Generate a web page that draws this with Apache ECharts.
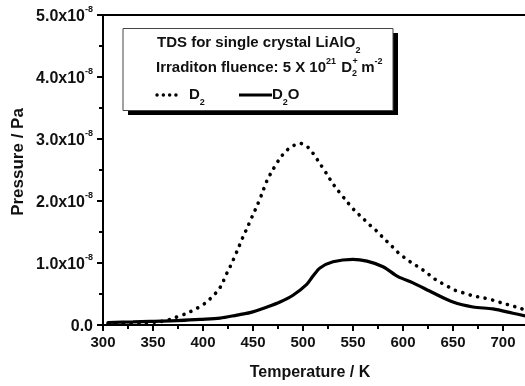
<!DOCTYPE html>
<html>
<head>
<meta charset="utf-8">
<script src="https://cdn.jsdelivr.net/npm/echarts@6/dist/echarts.min.js"></script>
<style>
  html, body { margin: 0; padding: 0; background: #fff; }
  #chart { width: 525px; height: 386px; }
</style>
</head>
<body>
<div id="chart"></div>
<script>
// Thermal desorption spectra, pressure in units of 1e-8 Pa
const d2Temp = [305, 320, 340, 355, 365, 372, 384, 394, 402, 407, 413, 418, 424, 428, 434, 440, 444, 450, 454, 459, 464, 469, 477, 484, 490, 497, 504, 510, 515, 524, 529, 534, 545, 552, 560, 567, 574, 580, 589, 595, 602, 609, 617, 624, 630, 637, 644, 652, 660, 670, 680, 690, 700, 709, 717, 724];
const d2Pressure = [0.02, 0.02, 0.03, 0.05, 0.08, 0.12, 0.19, 0.27, 0.35, 0.42, 0.52, 0.63, 0.84, 0.97, 1.19, 1.42, 1.56, 1.78, 1.92, 2.12, 2.33, 2.48, 2.69, 2.82, 2.89, 2.93, 2.88, 2.77, 2.65, 2.43, 2.30, 2.19, 1.97, 1.84, 1.72, 1.61, 1.51, 1.41, 1.27, 1.17, 1.08, 1.00, 0.92, 0.84, 0.76, 0.69, 0.63, 0.56, 0.52, 0.47, 0.44, 0.40, 0.35, 0.31, 0.27, 0.23];

const d2oTemp = [305, 330, 347, 374, 397, 417, 434, 447, 464, 477, 490, 504, 510, 517, 530, 550, 564, 580, 595, 610, 630, 650, 670, 690, 710, 724];
const d2oPressure = [0.04, 0.05, 0.06, 0.07, 0.09, 0.11, 0.16, 0.20, 0.29, 0.37, 0.48, 0.66, 0.79, 0.92, 1.02, 1.06, 1.03, 0.94, 0.78, 0.68, 0.52, 0.37, 0.29, 0.26, 0.19, 0.14];

const xTicks = { min: 300, max: 750, interval: 50 };
const yTicks = { min: 0, max: 5, interval: 1 };

const FONT = '"Liberation Sans", Arial, sans-serif';
const INK = '#111';

function pairs(xs, ys) {
  return xs.map((x, i) => [x, ys[i]]);
}

// text width helper for laying out the stacked sub/superscripts
const measureCtx = document.createElement('canvas').getContext('2d');
function textWidth(str, size) {
  measureCtx.font = 'bold ' + size + 'px ' + FONT;
  return measureCtx.measureText(str).width;
}

const BIG = 15, SMALL = 9;
function txt(x, y, str, size, z) {
  return { type: 'text', x: x, y: y, z: z || 12,
    style: { text: str, font: 'bold ' + size + 'px ' + FONT, fill: INK, verticalAlign: 'middle' } };
}

// second annotation line: Irraditon fluence: 5 X 10^21 D_2^+ m^-2
function fluenceLine(x0, y) {
  const out = [];
  let x = x0;
  const seg = (str, size, dy) => { out.push(txt(x, y + dy, str, size)); x += textWidth(str, size); };
  seg('Irraditon fluence: 5 X 10', BIG, 0);
  seg('21', SMALL, -6);
  x += 1;
  seg(' D', BIG, 0);
  out.push(txt(x + 0.5, y - 6, '+', SMALL));
  seg('2', SMALL, 6);
  seg(' m', BIG, 0);
  seg('-2', SMALL, -6);
  return out;
}

const chart = echarts.init(document.getElementById('chart'), null, { renderer: 'canvas' });

const axisLineStyle = { color: '#000', width: 2 };
const tickStyle = { color: '#000', width: 2 };

const subRich = {
  t: { font: 'bold ' + BIG + 'px ' + FONT, fill: INK, lineHeight: 24, verticalAlign: 'middle' },
  sub: { font: 'bold ' + SMALL + 'px ' + FONT, fill: INK, lineHeight: 24, verticalAlign: 'bottom' }
};

chart.setOption({
  animation: false,
  backgroundColor: '#fff',
  // the temperature axis runs on past the right edge of the page
  grid: { left: 103, top: 15, width: 450, height: 310, containLabel: false, outerBoundsMode: 'none' },
  xAxis: [{
    type: 'value',
    min: xTicks.min, max: xTicks.max, interval: xTicks.interval,
    axisLine: { show: true, onZero: false, lineStyle: axisLineStyle },
    axisTick: { show: true, inside: false, length: 6, lineStyle: tickStyle },
    minorTick: { show: true, splitNumber: 2, length: 4, lineStyle: tickStyle },
    splitLine: { show: false },
    axisLabel: { margin: 10, color: INK, fontFamily: FONT, fontWeight: 'bold', fontSize: 15 }
  }, {
    type: 'value', position: 'top',
    min: xTicks.min, max: xTicks.max,
    axisLine: { show: true, onZero: false, lineStyle: axisLineStyle },
    axisTick: { show: false }, axisLabel: { show: false }, splitLine: { show: false }
  }],
  yAxis: {
    type: 'value',
    min: yTicks.min, max: yTicks.max, interval: yTicks.interval,
    axisLine: { show: true, onZero: false, lineStyle: axisLineStyle },
    axisTick: { show: true, inside: false, length: 6, lineStyle: tickStyle },
    minorTick: { show: true, splitNumber: 2, length: 4, lineStyle: tickStyle },
    splitLine: { show: false },
    axisLabel: {
      margin: 10,
      formatter: v => v === 0 ? '{b|0.0}' : '{b|' + v.toFixed(1) + 'x10}{sup|-8}',
      rich: {
        b: { fontFamily: FONT, fontWeight: 'bold', fontSize: 16, color: INK, lineHeight: 20, verticalAlign: 'bottom' },
        sup: { fontFamily: FONT, fontWeight: 'bold', fontSize: 9, color: INK, lineHeight: 20, verticalAlign: 'top' }
      }
    }
  },
  series: [{
    name: 'D2', type: 'line', xAxisIndex: 0,
    data: pairs(d2Temp, d2Pressure),
    showSymbol: false, smooth: 0.3,
    lineStyle: { color: '#000', width: 3.6, type: [0.1, 7.6], cap: 'round' }
  }, {
    name: 'D2O', type: 'line', xAxisIndex: 0,
    data: pairs(d2oTemp, d2oPressure),
    showSymbol: false, smooth: 0.3,
    lineStyle: { color: '#000', width: 3.2, type: 'solid', cap: 'round' }
  }],
  graphic: [
    // axis titles
    { type: 'text', x: 18, y: 162, rotation: Math.PI / 2,
      style: { text: 'Pressure / Pa', font: 'bold 17px ' + FONT, fill: INK, align: 'center', verticalAlign: 'middle' } },
    { type: 'text', x: 310, y: 373,
      style: { text: 'Temperature / K', font: 'bold 16px ' + FONT, fill: INK, align: 'center', verticalAlign: 'middle' } },
    // annotation box with drop shadow
    { type: 'rect', shape: { x: 128, y: 33, width: 270, height: 82 }, style: { fill: '#000' }, z: 10 },
    { type: 'rect', shape: { x: 123, y: 28.5, width: 270, height: 82 }, style: { fill: '#fff', stroke: '#444', lineWidth: 1 }, z: 11 },
    { type: 'text', x: 157, y: 43, z: 12,
      style: { text: '{t|TDS for single crystal LiAlO}{sub|2}', verticalAlign: 'middle', rich: subRich } },
    ...fluenceLine(156, 68),
    // key samples
    { type: 'line', z: 12, shape: { x1: 157, y1: 95, x2: 182, y2: 95 },
      style: { stroke: '#000', lineWidth: 3.4, lineDash: [0.1, 6.2], lineCap: 'round' } },
    { type: 'text', x: 189, y: 95, z: 12,
      style: { text: '{t|D}{sub|2}', verticalAlign: 'middle', rich: subRich } },
    { type: 'line', z: 12, shape: { x1: 239, y1: 95, x2: 272, y2: 95 },
      style: { stroke: '#000', lineWidth: 3.2 } },
    { type: 'text', x: 272, y: 95, z: 12,
      style: { text: '{t|D}{sub|2}{t|O}', verticalAlign: 'middle', rich: subRich } }
  ]
});
</script>
</body>
</html>
